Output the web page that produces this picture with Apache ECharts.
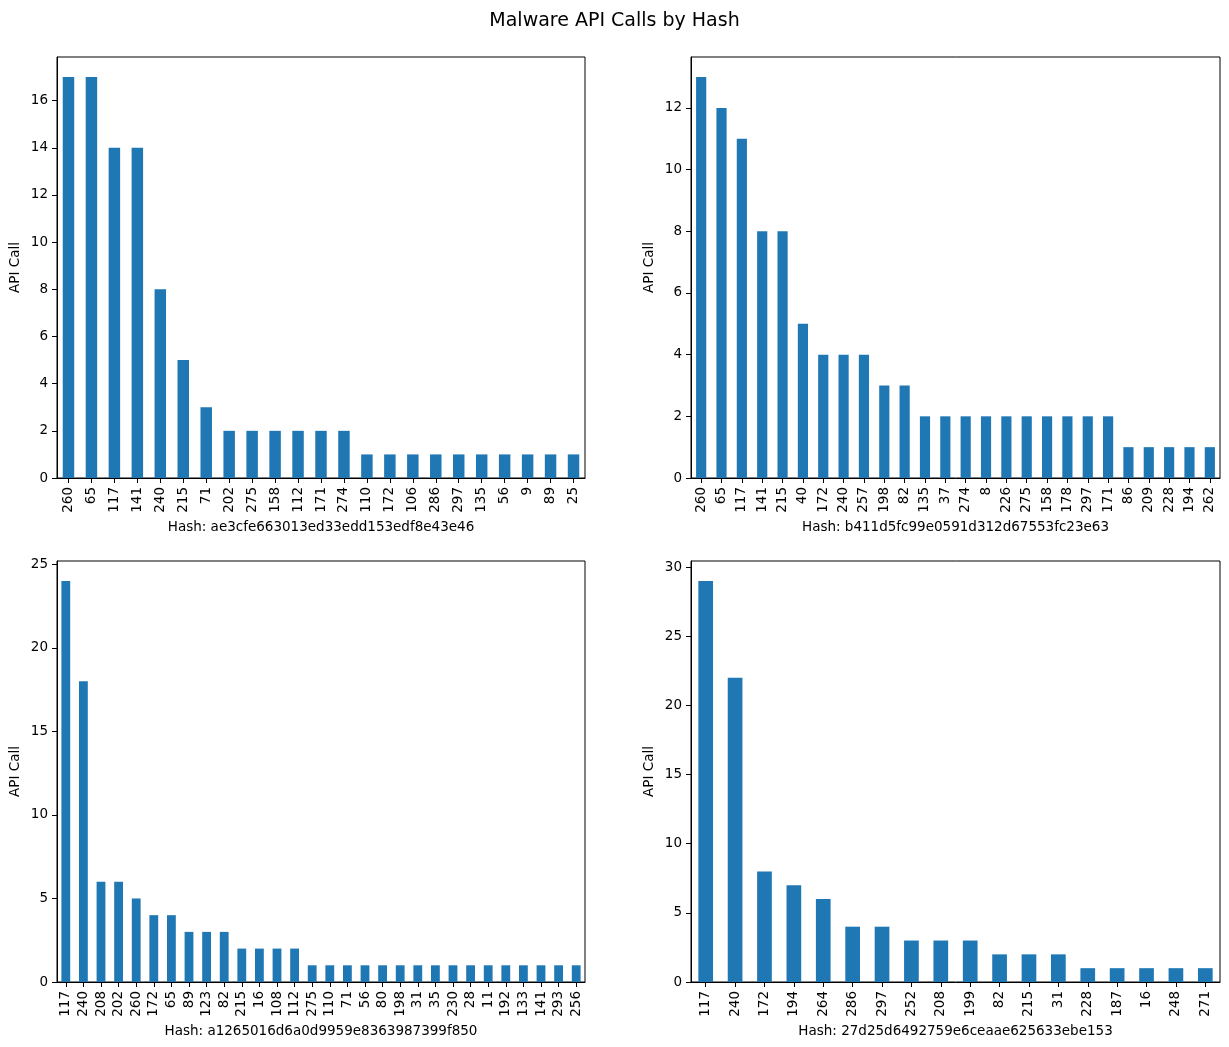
<!DOCTYPE html>
<html>
<head>
<meta charset="utf-8">
<script src="https://cdn.jsdelivr.net/npm/echarts@6/dist/echarts.min.js"></script>
<style>
html,body{margin:0;padding:0;background:#fff;}
#chart{width:1229px;height:1047px;}
</style>
</head>
<body>
<div id="chart"></div>
<script>
const titleText = 'Malware API Calls by Hash';

const hash1 = 'ae3cfe663013ed33edd153edf8e43e46';
const cats1 = ['260','65','117','141','240','215','71','202','275','158','112','171','274','110','172','106','286','297','135','56','9','89','25'];
const vals1 = [17,17,14,14,8,5,3,2,2,2,2,2,2,1,1,1,1,1,1,1,1,1,1];
const yTicks1 = [0,2,4,6,8,10,12,14,16];

const hash2 = 'b411d5fc99e0591d312d67553fc23e63';
const cats2 = ['260','65','117','141','215','40','172','240','257','198','82','135','37','274','8','226','275','158','178','297','171','86','209','228','194','262'];
const vals2 = [13,12,11,8,8,5,4,4,4,3,3,2,2,2,2,2,2,2,2,2,2,1,1,1,1,1];
const yTicks2 = [0,2,4,6,8,10,12];

const hash3 = 'a1265016d6a0d9959e8363987399f850';
const cats3 = ['117','240','208','202','260','172','65','89','123','82','215','16','108','112','275','110','71','56','80','198','31','35','230','28','11','192','133','141','293','256'];
const vals3 = [24,18,6,6,5,4,4,3,3,3,2,2,2,2,1,1,1,1,1,1,1,1,1,1,1,1,1,1,1,1];
const yTicks3 = [0,5,10,15,20,25];

const hash4 = '27d25d6492759e6ceaae625633ebe153';
const cats4 = ['117','240','172','194','264','286','297','252','208','199','82','215','31','228','187','16','248','271'];
const vals4 = [29,22,8,7,6,4,4,3,3,3,2,2,2,1,1,1,1,1];
const yTicks4 = [0,5,10,15,20,25,30];

const panels = [
  {hash: hash1, cats: cats1, vals: vals1, ticks: yTicks1, left: 57, top: 57, width: 528},
  {hash: hash2, cats: cats2, vals: vals2, ticks: yTicks2, left: 691, top: 57, width: 529},
  {hash: hash3, cats: cats3, vals: vals3, ticks: yTicks3, left: 57, top: 561, width: 528},
  {hash: hash4, cats: cats4, vals: vals4, ticks: yTicks4, left: 691, top: 561, width: 529}
];

const FONT = 'DejaVu Sans';
const grid = [], xAxis = [], yAxis = [], series = [];
panels.forEach((p, i) => {
  grid.push({left: p.left, top: p.top, width: p.width, height: 421, show: true, borderColor: '#000', borderWidth: 1, backgroundColor: 'transparent'});
  xAxis.push({
    type: 'category', gridIndex: i, data: p.cats, boundaryGap: true,
    name: 'Hash: ' + p.hash, nameLocation: 'middle', nameGap: 42,
    nameTextStyle: {fontFamily: FONT, fontSize: 13.5, color: '#000'},
    axisLine: {show: true, lineStyle: {color: '#000', width: 1}},
    axisTick: {show: true, alignWithLabel: true, length: 5, lineStyle: {color: '#000'}},
    axisLabel: {rotate: 90, interval: 0, margin: 9, fontFamily: FONT, fontSize: 13.5, color: '#000'},
    splitLine: {show: false}
  });
  const maxV = Math.max.apply(null, p.vals) * 1.05;
  yAxis.push({
    type: 'value', gridIndex: i, min: 0, max: maxV, interval: p.ticks[1] - p.ticks[0],
    name: 'API Call', nameLocation: 'middle', nameGap: 35,
    nameTextStyle: {fontFamily: FONT, fontSize: 13.5, color: '#000'},
    axisLine: {show: true, lineStyle: {color: '#000', width: 1}},
    axisTick: {show: true, length: 5, lineStyle: {color: '#000'}, customValues: p.ticks},
    axisLabel: {margin: 9, fontFamily: FONT, fontSize: 13.5, color: '#000', customValues: p.ticks},
    splitLine: {show: false}
  });
  series.push({
    type: 'bar', xAxisIndex: i, yAxisIndex: i, data: p.vals, barWidth: '50%',
    itemStyle: {color: '#1f77b4'}, silent: true, animation: false
  });
});

const chart = echarts.init(document.getElementById('chart'), null, {renderer: 'canvas'});
chart.setOption({
  animation: false,
  backgroundColor: '#fff',
  title: {text: titleText, left: 'center', top: 7, textStyle: {fontFamily: FONT, fontSize: 19, fontWeight: 'normal', color: '#000'}},
  grid: grid, xAxis: xAxis, yAxis: yAxis, series: series
});
</script>
</body>
</html>
